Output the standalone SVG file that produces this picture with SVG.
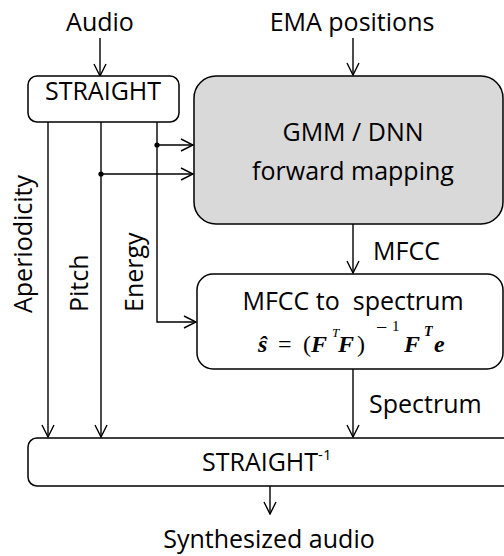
<svg xmlns="http://www.w3.org/2000/svg" width="504" height="556" viewBox="0 0 504 556">
<style>
.t{font-family:"Open Sans","Noto Sans",sans-serif;font-size:25px;fill:#000}
.m{font-family:"Liberation Serif","DejaVu Serif",serif;fill:#000;font-size:24px}
.b{font-weight:bold;font-style:italic}
.box{stroke:#000;stroke-width:1.5;fill:#fff}
.ln{stroke:#000;stroke-width:1.4;fill:none}
</style>
<defs>
<marker id="ah" markerUnits="userSpaceOnUse" viewBox="0 0 14 14" refX="13" refY="7" markerWidth="14" markerHeight="14" orient="auto">
<path d="M1,1 L13,7 L1,13" fill="none" stroke="#000" stroke-width="1.4"/>
</marker>
</defs>
<rect width="504" height="556" fill="#fff"/>
<g id="connectors">
<line class="ln" x1="100" y1="38" x2="100" y2="76" marker-end="url(#ah)"/>
<line class="ln" x1="353" y1="38" x2="353" y2="75" marker-end="url(#ah)"/>
<line class="ln" x1="48" y1="122" x2="48" y2="437" marker-end="url(#ah)"/>
<line class="ln" x1="101" y1="122" x2="101" y2="437" marker-end="url(#ah)"/>
<polyline class="ln" points="157,122 157,322 196,322" marker-end="url(#ah)"/>
<line class="ln" x1="157" y1="145" x2="193" y2="145" marker-end="url(#ah)"/>
<line class="ln" x1="101" y1="174" x2="193" y2="174" marker-end="url(#ah)"/>
<circle cx="157" cy="145" r="2.6" fill="#000"/>
<circle cx="101" cy="174" r="2.6" fill="#000"/>
<line class="ln" x1="353" y1="224" x2="353" y2="273" marker-end="url(#ah)"/>
<line class="ln" x1="353" y1="369" x2="353" y2="437" marker-end="url(#ah)"/>
<line class="ln" x1="270" y1="486" x2="270" y2="514" marker-end="url(#ah)"/>
<text class="t" x="373" y="260">MFCC</text>
<text class="t" x="369" y="413">Spectrum</text>
<text class="t" transform="translate(32,313) rotate(-90)">Aperiodicity</text>
<text class="t" transform="translate(88,312) rotate(-90)">Pitch</text>
<text class="t" transform="translate(143,312) rotate(-90)">Energy</text>
</g>
<g id="audio-in"><text class="t" x="100" y="31" text-anchor="middle">Audio</text></g>
<g id="ema-in"><text class="t" x="352" y="31" text-anchor="middle">EMA positions</text></g>
<g id="straight">
<rect class="box" x="28" y="76" width="151" height="46" rx="9"/>
<text class="t" x="103" y="100" text-anchor="middle">STRAIGHT</text>
</g>
<g id="gmm">
<rect class="box" x="194" y="76" width="309" height="148" rx="22" style="fill:#d9d9d9"/>
<text class="t" x="353" y="141" text-anchor="middle">GMM / DNN</text>
<text class="t" x="353" y="180" text-anchor="middle">forward mapping</text>
</g>
<g id="mfcc2spec">
<rect class="box" x="197" y="274" width="306" height="95" rx="16"/>
<text class="t" x="353" y="310" text-anchor="middle" xml:space="preserve">MFCC to  spectrum</text>
<text class="m"><tspan class="b" x="258" y="352">ŝ</tspan><tspan x="278" y="352">=</tspan><tspan x="303" y="352">(</tspan><tspan class="b" x="311" y="352">F</tspan><tspan x="332" y="337" font-size="13" font-style="italic">T</tspan><tspan class="b" x="338" y="352">F</tspan><tspan x="357" y="352">)</tspan><tspan x="376" y="334" font-size="20">−</tspan><tspan x="392" y="331" font-size="15">1</tspan><tspan class="b" x="404" y="352">F</tspan><tspan class="b" x="424" y="336" font-size="14">T</tspan><tspan class="b" x="434" y="352">e</tspan></text>
</g>
<g id="straight-inv">
<rect class="box" x="28" y="438" width="490" height="48" rx="9"/>
<text class="t" x="202" y="471">STRAIGHT<tspan font-size="15" dy="-11">-1</tspan></text>
</g>
<g id="audio-out"><text class="t" x="269" y="548" text-anchor="middle">Synthesized audio</text></g>
</svg>
